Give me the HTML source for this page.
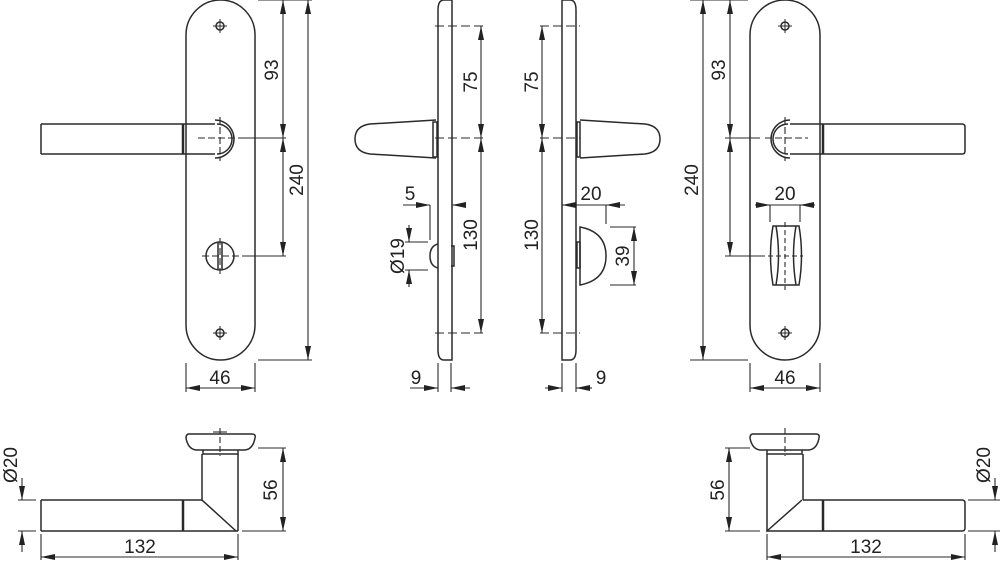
<!DOCTYPE html>
<html><head><meta charset="utf-8"><style>
html,body{margin:0;padding:0;background:#fff;}
svg{display:block;}
text{font-family:"Liberation Sans",Arial,sans-serif;font-size:19px;fill:#222;}
</style></head><body>
<svg width="1000" height="562" viewBox="0 0 1000 562" xmlns="http://www.w3.org/2000/svg">
<defs>
<marker id="a" viewBox="0 0 14 6" refX="14" refY="3" markerWidth="14" markerHeight="6" markerUnits="userSpaceOnUse" orient="auto-start-reverse"><path d="M0,0 L14,3 L0,6 Z" fill="#222"/></marker>
</defs>
<g fill="none" stroke="#2a2a2a" stroke-width="1.5">
<!-- LEFT FRONT PLATE -->
<path d="M186,35 A34.5,35 0 0 1 255,35 L255,325 A34.5,35 0 0 1 186,325 Z"/>
<circle cx="220" cy="26" r="4"/><path d="M213,26h14M220,19v14" stroke-width="1"/>
<circle cx="220" cy="333" r="4"/><path d="M213,333h14M220,326v14" stroke-width="1"/>
<path d="M41,124 H215 M41,154 H215 M41,124 V154 M183,124 V154"/>
<path d="M183,124 V154" stroke-width="2.5"/>
<path d="M215,120 A19,19 0 0 1 215,158 M217,124 A15,15 0 0 1 217,154"/>
<path d="M198,138 H245 M220,117 V161" stroke-dasharray="7,3" stroke-width="1.1"/>
<circle cx="220" cy="256" r="14"/>
<path d="M218,243 V269 M222,243 V269"/>
<path d="M202,256 H242 M220,238 V274" stroke-dasharray="7,3" stroke-width="1.1"/>
<!-- dims left -->
<path d="M258,0 H312 M245,138 H286 M242,256 H286 M258,360 H312" stroke-width="1.1"/>
<path d="M283,0 V138" marker-start="url(#a)" marker-end="url(#a)" stroke-width="1.1"/>
<path d="M283,138 V256" marker-start="url(#a)" marker-end="url(#a)" stroke-width="1.1"/>
<path d="M308,0 V360" marker-start="url(#a)" marker-end="url(#a)" stroke-width="1.1"/>
<path d="M186,363 V392 M255,363 V392" stroke-width="1.1"/>
<path d="M186,388 H255" marker-start="url(#a)" marker-end="url(#a)" stroke-width="1.1"/>

<!-- MIDDLE LEFT SIDE -->
<path d="M452,0 V360 H444 Q438,360 438,350 V10 Q438,0 444,0 Z"/>
<path d="M433,122 V157 H437 V122 Z"/>
<path d="M436,120 L370,124 Q355,126 355,139 Q355,152 370,154 L436,158"/>
<path d="M435,26 H486 M435,138 H486 M435,333 H486" stroke-dasharray="9,4" stroke-width="1.1"/>
<path d="M481,26 V138" marker-start="url(#a)" marker-end="url(#a)" stroke-width="1.1"/>
<path d="M481,138 V333" marker-start="url(#a)" marker-end="url(#a)" stroke-width="1.1"/>
<path d="M438,244 Q430,246 430,256 Q430,266 438,268"/>
<path d="M451,246 H454 V266 H451"/>
<path d="M430,205 V240 M405,242 H428 M405,270 H428" stroke-width="1.1"/>
<path d="M403,205 H430" marker-end="url(#a)" stroke-width="1.1"/>
<path d="M465,205 H452" marker-end="url(#a)" stroke-width="1.1"/>
<path d="M409,225 V242" marker-end="url(#a)" stroke-width="1.1"/>
<path d="M409,287 V270" marker-end="url(#a)" stroke-width="1.1"/>
<path d="M438,363 V392 M451,363 V392" stroke-width="1.1"/>
<path d="M410,388 H438" marker-end="url(#a)" stroke-width="1.1"/>
<path d="M470,388 H451" marker-end="url(#a)" stroke-width="1.1"/>

<!-- MIDDLE RIGHT SIDE -->
<path d="M562,0 V360 H570 Q576,360 576,350 V10 Q576,0 570,0 Z"/>
<path d="M577,122 V157 H580 V122 Z"/>
<path d="M580,120 L645,124 Q660,126 660,139 Q660,152 645,154 L580,158"/>
<path d="M540,26 H580 M540,138 H580 M540,333 H580" stroke-dasharray="9,4" stroke-width="1.1"/>
<path d="M542,26 V138" marker-start="url(#a)" marker-end="url(#a)" stroke-width="1.1"/>
<path d="M542,138 V333" marker-start="url(#a)" marker-end="url(#a)" stroke-width="1.1"/>
<path d="M580,227 Q606,232 606,256 Q606,280 580,285 Z"/>
<path d="M577,242 H580 V268 H577 Z"/>
<path d="M562,205 H620" stroke-width="1.1"/>
<path d="M600,205 H562" marker-end="url(#a)" stroke-width="1.1"/>
<path d="M625,205 H606" marker-end="url(#a)" stroke-width="1.1"/>
<path d="M606,205 V224 M610,227 H636 M610,285 H636" stroke-width="1.1"/>
<path d="M634,227 V285" marker-start="url(#a)" marker-end="url(#a)" stroke-width="1.1"/>
<path d="M562,363 V392 M576,363 V392" stroke-width="1.1"/>
<path d="M545,388 H562" marker-end="url(#a)" stroke-width="1.1"/>
<path d="M592,388 H576" marker-end="url(#a)" stroke-width="1.1"/>

<!-- RIGHT FRONT PLATE -->
<path d="M750,35 A35,35 0 0 1 820,35 L820,325 A35,35 0 0 1 750,325 Z"/>
<circle cx="785" cy="26" r="4"/><path d="M778,26h14M785,19v14" stroke-width="1"/>
<circle cx="785" cy="333" r="4"/><path d="M778,333h14M785,326v14" stroke-width="1"/>
<path d="M790,124 H962 Q965,124 965,127 V151 Q965,154 962,154 H790 M823,124 V154"/>
<path d="M823,124 V154" stroke-width="2.5"/>
<path d="M790,120 A19,19 0 0 0 790,158 M788,124 A15,15 0 0 0 788,154"/>
<path d="M765,138 H808 M785,117 V161" stroke-dasharray="7,3" stroke-width="1.1"/>
<path d="M773,226 H799 Q804,255 799,285 H773 Q768,255 773,226 Z"/>
<path d="M776,226 Q781,255 776,285 M796,226 Q791,255 796,285"/>
<path d="M785,222 V290 M768,256 H803" stroke-dasharray="5,3" stroke-width="1.1"/>
<path d="M770,205 V222 M800,205 V222" stroke-width="1.1"/>
<path d="M770,205 H800" stroke-width="1.1"/>
<path d="M755,205 H770" marker-end="url(#a)" stroke-width="1.1"/>
<path d="M815,205 H800" marker-end="url(#a)" stroke-width="1.1"/>
<path d="M690,0 H748 M725,138 H760 M725,256 H765 M690,360 H748" stroke-width="1.1"/>
<path d="M730,0 V138" marker-start="url(#a)" marker-end="url(#a)" stroke-width="1.1"/>
<path d="M730,138 V256" marker-start="url(#a)" marker-end="url(#a)" stroke-width="1.1"/>
<path d="M703,0 V360" marker-start="url(#a)" marker-end="url(#a)" stroke-width="1.1"/>
<path d="M750,363 V392 M820,363 V392" stroke-width="1.1"/>
<path d="M750,388 H820" marker-start="url(#a)" marker-end="url(#a)" stroke-width="1.1"/>

<!-- BOTTOM LEFT -->
<path d="M189,434 H252 Q256,434 255,438 Q253,449 245,450 H196 Q188,449 186,438 Q186,434 189,434 Z"/>
<path d="M203,450 V454 H238 V450"/>
<path d="M202,454 V500 L236,531 M238,454 V531"/>
<path d="M41,500 H202 M41,531 H238 M41,500 V531 M183,500 V531"/>
<path d="M183,500 V531" stroke-width="2.5"/>
<path d="M220,428 V456" stroke-dasharray="6,3" stroke-width="1.1"/>
<path d="M213,432 H227" stroke-width="1.1"/>
<path d="M258,448 H286 M242,531 H286" stroke-width="1.1"/>
<path d="M283,448 V531" marker-start="url(#a)" marker-end="url(#a)" stroke-width="1.1"/>
<path d="M18,500 H36 M18,531 H36" stroke-width="1.1"/>
<path d="M22,478 V500" marker-end="url(#a)" stroke-width="1.1"/>
<path d="M22,552 V531" marker-end="url(#a)" stroke-width="1.1"/>
<path d="M41,534 V560 M238,534 V560" stroke-width="1.1"/>
<path d="M41,557 H238" marker-start="url(#a)" marker-end="url(#a)" stroke-width="1.1"/>

<!-- BOTTOM RIGHT -->
<path d="M753,434 H816 Q820,434 819,438 Q817,449 809,450 H760 Q752,449 750,438 Q750,434 753,434 Z"/>
<path d="M767,450 V454 H802 V450"/>
<path d="M767,454 V531 L802,500 M803,454 V500"/>
<path d="M803,500 H962 Q965,500 965,503 V528 Q965,531 962,531 H767 M823,500 V531"/>
<path d="M823,500 V531" stroke-width="2.5"/>
<path d="M785,428 V456" stroke-dasharray="6,3" stroke-width="1.1"/>
<path d="M725,448 H750 M725,531 H760" stroke-width="1.1"/>
<path d="M729,448 V531" marker-start="url(#a)" marker-end="url(#a)" stroke-width="1.1"/>
<path d="M968,500 H1000 M968,531 H1000" stroke-width="1.1"/>
<path d="M995,478 V500" marker-end="url(#a)" stroke-width="1.1"/>
<path d="M995,552 V531" marker-end="url(#a)" stroke-width="1.1"/>
<path d="M767,534 V560 M965,534 V560" stroke-width="1.1"/>
<path d="M767,557 H965" marker-start="url(#a)" marker-end="url(#a)" stroke-width="1.1"/>
</g>
<g>
<text transform="translate(278,70) rotate(-90)" text-anchor="middle">93</text>
<text transform="translate(303,180) rotate(-90)" text-anchor="middle">240</text>
<text x="220" y="384" text-anchor="middle">46</text>
<text transform="translate(477,82) rotate(-90)" text-anchor="middle">75</text>
<text transform="translate(477,235) rotate(-90)" text-anchor="middle">130</text>
<text x="410" y="200" text-anchor="middle">5</text>
<text transform="translate(404,256) rotate(-90)" text-anchor="middle">Ø19</text>
<text x="416" y="384" text-anchor="middle">9</text>
<text transform="translate(538,82) rotate(-90)" text-anchor="middle">75</text>
<text transform="translate(538,235) rotate(-90)" text-anchor="middle">130</text>
<text x="591" y="200" text-anchor="middle">20</text>
<text transform="translate(629,256) rotate(-90)" text-anchor="middle">39</text>
<text x="601" y="384" text-anchor="middle">9</text>
<text transform="translate(725,70) rotate(-90)" text-anchor="middle">93</text>
<text transform="translate(698,180) rotate(-90)" text-anchor="middle">240</text>
<text x="785" y="200" text-anchor="middle">20</text>
<text x="785" y="384" text-anchor="middle">46</text>
<text transform="translate(277,490) rotate(-90)" text-anchor="middle">56</text>
<text transform="translate(17,465) rotate(-90)" text-anchor="middle">Ø20</text>
<text x="140" y="553" text-anchor="middle">132</text>
<text transform="translate(724,490) rotate(-90)" text-anchor="middle">56</text>
<text transform="translate(990,465) rotate(-90)" text-anchor="middle">Ø20</text>
<text x="866" y="553" text-anchor="middle">132</text>
</g>
</svg>
</body></html>
